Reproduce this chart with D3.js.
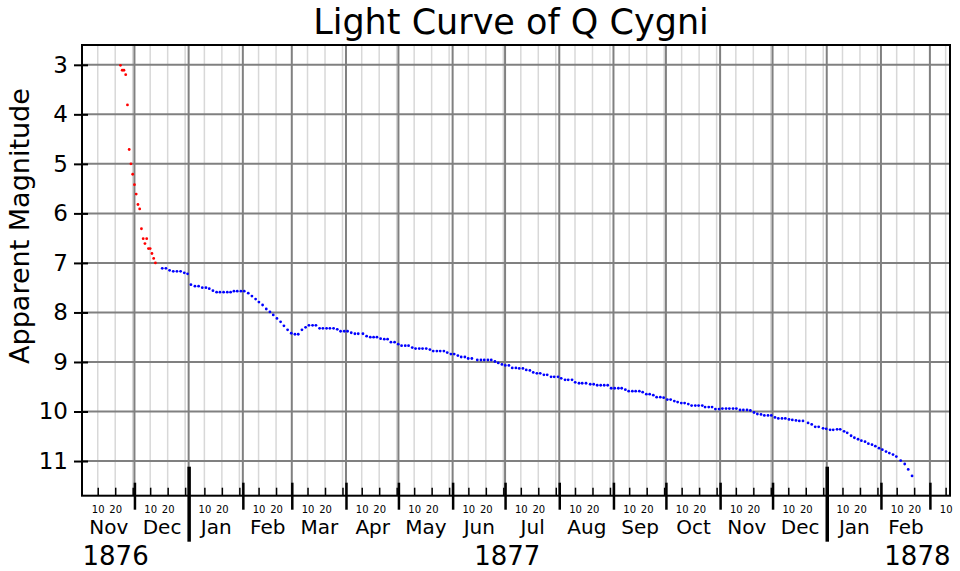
<!DOCTYPE html>
<html>
<head>
<meta charset="utf-8">
<script src="https://cdn.jsdelivr.net/npm/d3@7"></script>
<style>
body { margin: 0; background: #fff; }
svg { font-family: "DejaVu Sans", sans-serif; }
</style>
</head>
<body>
<div id="chart"></div>
<script>
// days counted from 1 Nov 1876
var redDay = [22, 23, 24, 25, 26, 27, 28, 29, 30, 31, 32, 33, 34, 35, 36, 37, 38, 39, 40, 41, 42];
var redMag = [3.01, 3.11, 3.11, 3.20, 3.81, 4.71, 5.00, 5.21, 5.42, 5.61, 5.82, 5.91, 6.31, 6.51, 6.61, 6.51, 6.71, 6.71, 6.81, 6.91, 7.00];

var blueDay = [
  45.9, 48.0, 50.1, 52.2, 54.3, 56.4, 58.5, 60.4, 62.3, 64.6, 66.7, 68.8, 70.9, 72.8, 74.9, 77.0, 78.9, 81.0, 83.1, 85.0, 86.9, 88.8, 90.9, 92.8,
  95.1, 97.2, 99.3, 101.2, 103.3, 105.4, 107.5, 109.4, 111.5, 113.6, 115.5, 117.6, 119.7, 121.8, 123.7, 125.8, 127.9, 129.8, 131.9, 133.8, 135.9, 137.8, 139.9, 141.8, 143.9, 146.0, 147.9, 150.0, 151.9, 154.0, 156.1, 158.0,
  160.7, 162.8, 164.9, 166.8, 168.7, 170.8, 172.9, 174.8, 176.7, 178.8, 180.9, 182.8, 184.9, 186.8, 188.9, 190.8, 192.9, 194.8, 196.9, 199.0, 200.9, 203.0, 204.9, 207.0, 208.9, 211.0, 212.9, 215.0, 216.9, 219.0, 220.9, 223.0,
  226.1, 228.2, 230.1, 232.2, 234.1, 236.2, 238.1, 240.2, 242.1, 244.2, 246.1, 248.2, 250.1, 252.2, 254.1, 256.2, 258.1, 260.2, 262.1, 264.2, 266.1, 268.3, 270.1, 272.3, 274.1, 276.3, 278.1, 280.3, 282.1, 284.3, 286.1, 288.3,
  290.7, 292.7, 294.7, 296.7, 298.7, 300.7, 302.7, 304.7, 306.8, 308.7, 310.8, 312.7, 314.8, 316.7, 318.8, 320.7, 322.8, 324.7, 326.8, 328.7, 330.8, 332.7, 334.8, 336.7, 338.8, 340.7, 342.8, 344.7, 346.8, 348.7, 350.8, 352.7, 354.8,
  356.4, 358.5, 360.4, 362.3, 364.4, 366.3, 368.4, 370.3, 372.4, 374.3, 376.4, 378.3, 380.4, 382.3, 384.4, 386.3, 388.4, 390.3, 392.4, 394.3, 396.4, 398.3, 400.4, 402.3, 404.4, 406.3, 408.4, 410.3, 412.4, 415.3, 417.4, 419.4, 421.4,
  423.9, 425.7, 427.9, 429.7, 431.9, 433.7, 435.9, 437.7, 439.9, 441.8, 443.9, 445.8, 447.9, 449.8, 451.9, 453.8, 455.9, 457.8, 459.9, 461.8, 463.9, 465.8, 468.3, 470.6, 472.6, 474.8
];
var blueMag = [
  7.11, 7.11, 7.15, 7.17, 7.17, 7.17, 7.20, 7.22, 7.44, 7.47, 7.47, 7.50, 7.50, 7.52, 7.56, 7.59, 7.59, 7.59, 7.59, 7.59, 7.57, 7.57, 7.57, 7.57,
  7.61, 7.67, 7.73, 7.79, 7.85, 7.93, 7.99, 8.05, 8.12, 8.19, 8.27, 8.35, 8.42, 8.44, 8.44, 8.35, 8.30, 8.26, 8.26, 8.26, 8.32, 8.32, 8.32, 8.32, 8.32, 8.34, 8.38, 8.38, 8.38, 8.41, 8.43, 8.43,
  8.43, 8.48, 8.50, 8.50, 8.50, 8.53, 8.54, 8.54, 8.60, 8.60, 8.64, 8.67, 8.67, 8.67, 8.71, 8.73, 8.73, 8.73, 8.73, 8.75, 8.78, 8.78, 8.78, 8.78, 8.81, 8.84, 8.84, 8.87, 8.90, 8.90, 8.93, 8.93,
  8.96, 8.96, 8.96, 8.96, 8.96, 8.99, 9.02, 9.05, 9.07, 9.07, 9.12, 9.12, 9.13, 9.13, 9.16, 9.17, 9.21, 9.23, 9.23, 9.26, 9.26, 9.30, 9.30, 9.30, 9.33, 9.36, 9.36, 9.36, 9.41, 9.43, 9.43, 9.43,
  9.45, 9.45, 9.47, 9.47, 9.47, 9.47, 9.53, 9.53, 9.53, 9.53, 9.56, 9.59, 9.59, 9.59, 9.59, 9.61, 9.65, 9.65, 9.67, 9.71, 9.71, 9.72, 9.76, 9.76, 9.79, 9.81, 9.83, 9.83, 9.85, 9.88, 9.88, 9.88, 9.88,
  9.91, 9.91, 9.91, 9.95, 9.95, 9.94, 9.94, 9.94, 9.94, 9.94, 9.97, 9.97, 9.97, 9.98, 10.02, 10.05, 10.06, 10.08, 10.08, 10.08, 10.12, 10.14, 10.14, 10.14, 10.16, 10.17, 10.18, 10.19, 10.19, 10.23, 10.26, 10.31, 10.31,
  10.34, 10.35, 10.37, 10.37, 10.36, 10.36, 10.40, 10.43, 10.49, 10.53, 10.56, 10.59, 10.61, 10.65, 10.67, 10.70, 10.74, 10.77, 10.81, 10.84, 10.87, 10.91, 10.99, 11.06, 11.17, 11.30
];

var magTicks = [3, 4, 5, 6, 7, 8, 9, 10, 11];
var dayTicks = [10, 20, 30];
var dayLabels = [10, 20];
var monthNames = ["Jan", "Feb", "Mar", "Apr", "May", "Jun", "Jul", "Aug", "Sep", "Oct", "Nov", "Dec"];
var yearLabels = ["1876", "1877", "1878"];

var origin = Date.UTC(1876, 10, 1);
function toDate(d) { return new Date(origin + d * 864e5); }

var width = 960, height = 571;
var margin = {top: 45, right: 10, bottom: 75.3, left: 82},
  w = width - margin.left - margin.right,
  h = height - margin.top - margin.bottom;

var start = new Date(origin), end = new Date(Date.UTC(1878, 2, 12, 12));

var svg = d3.select("#chart").append("svg")
  .attr("width", width)
  .attr("height", height);

svg.append("rect").attr("width", width).attr("height", height).attr("fill", "#fff");

var g = svg.append("g")
  .attr("transform", "translate(" + margin.left + "," + margin.top + ")");

var x = d3.scaleUtc().domain([start, end]).range([0, w]);
var y = d3.scaleLinear().domain([2.6, 11.7]).range([0, h]);

var minorDates = d3.utcDay.range(start, end).filter(function(d) { return dayTicks.indexOf(d.getUTCDate()) >= 0; });
var monthStarts = d3.utcMonth.range(start, end).filter(function(d) { return d > start; });
var yearStarts = monthStarts.filter(function(d) { return d.getUTCMonth() === 0; });
var plainMonths = monthStarts.filter(function(d) { return d.getUTCMonth() !== 0; });
var fullMonths = d3.utcMonth.range(start, end).filter(function(d) { return d3.utcMonth.offset(d, 1) <= end; });
var monthMids = fullMonths.map(function(d) { return new Date((+d + +d3.utcMonth.offset(d, 1)) / 2); });

// grid
g.append("g").selectAll("line").data(minorDates).enter().append("line")
  .attr("x1", x).attr("x2", x).attr("y1", 0).attr("y2", h)
  .attr("stroke", "#d8d8d8").attr("stroke-width", 1.5);
g.append("g").selectAll("line").data(monthStarts).enter().append("line")
  .attr("x1", x).attr("x2", x).attr("y1", 0).attr("y2", h)
  .attr("stroke", "#808080").attr("stroke-width", 2);
g.append("g").selectAll("line").data(magTicks).enter().append("line")
  .attr("x1", 0).attr("x2", w).attr("y1", y).attr("y2", y)
  .attr("stroke", "#808080").attr("stroke-width", 2);

// points
g.append("g").selectAll("circle").data(redDay).enter().append("circle")
  .attr("cx", function(d) { return x(toDate(d)); })
  .attr("cy", function(d, i) { return y(redMag[i]); })
  .attr("r", 1.4).attr("fill", "#ff0000");
g.append("g").selectAll("circle").data(blueDay).enter().append("circle")
  .attr("cx", function(d) { return x(toDate(d)); })
  .attr("cy", function(d, i) { return y(blueMag[i]); })
  .attr("r", 1.4).attr("fill", "#0000ff");

// frame
g.append("rect").attr("width", w).attr("height", h)
  .attr("fill", "none").attr("stroke", "#000").attr("stroke-width", 2);

// y axis
g.append("g")
  .call(d3.axisLeft(y).tickValues(magTicks).tickSize(8).tickPadding(6))
  .call(function(a) {
    a.select(".domain").remove();
    a.selectAll(".tick line").attr("x1", 6).attr("stroke-width", 2);
    a.selectAll(".tick text").attr("font-size", 23).attr("font-family", "DejaVu Sans").attr("x", -14);
  });

// x axis: day ticks
g.append("g").attr("transform", "translate(0," + h + ")")
  .call(d3.axisBottom(x).tickValues(minorDates).tickSize(0)
    .tickFormat(function(d) { return dayLabels.indexOf(d.getUTCDate()) >= 0 ? d.getUTCDate() : ""; }))
  .call(function(a) {
    a.select(".domain").remove();
    a.selectAll(".tick line").attr("y2", -8).attr("stroke-width", 1.5);
    a.selectAll(".tick text").attr("y", 17.5).attr("dy", 0).attr("font-size", 10).attr("font-family", "DejaVu Sans");
  });

// month ticks
g.append("g").attr("transform", "translate(0," + h + ")")
  .call(d3.axisBottom(x).tickValues(plainMonths).tickSize(14).tickFormat(""))
  .call(function(a) {
    a.select(".domain").remove();
    a.selectAll(".tick line").attr("y1", -13).attr("stroke-width", 2.5);
  });

// year ticks
g.append("g").attr("transform", "translate(0," + h + ")")
  .call(d3.axisBottom(x).tickValues(yearStarts).tickSize(46).tickFormat(""))
  .call(function(a) {
    a.select(".domain").remove();
    a.selectAll(".tick line").attr("y1", -29).attr("stroke-width", 3.5);
  });

// month names
g.append("g").attr("transform", "translate(0," + h + ")")
  .call(d3.axisBottom(x).tickValues(monthMids).tickSize(0)
    .tickFormat(function(d) { return monthNames[d.getUTCMonth()]; }))
  .call(function(a) {
    a.select(".domain").remove();
    a.selectAll(".tick line").remove();
    a.selectAll(".tick text").attr("y", 38.5).attr("dy", 0).attr("font-size", 20).attr("font-family", "DejaVu Sans");
  });

// years
var yearPos = [start, new Date(Date.UTC(1877, 6, 2)), end];
var anchors = ["start", "middle", "end"];
g.append("g").attr("transform", "translate(0," + h + ")")
  .call(d3.axisBottom(x).tickValues(yearPos).tickSize(0)
    .tickFormat(function(d, i) { return yearLabels[i]; }))
  .call(function(a) {
    a.select(".domain").remove();
    a.selectAll(".tick line").remove();
    a.selectAll(".tick text").attr("y", 69.5).attr("dy", 0).attr("font-size", 26).attr("font-family", "DejaVu Sans")
      .attr("text-anchor", function(d, i) { return anchors[i]; });
  });

// labels
svg.append("text")
  .attr("x", 511).attr("y", 34)
  .attr("text-anchor", "middle")
  .attr("font-size", 35)
  .text("Light Curve of Q Cygni");

svg.append("text")
  .attr("transform", "translate(29,226) rotate(-90)")
  .attr("text-anchor", "middle")
  .attr("font-size", 27)
  .text("Apparent Magnitude");
</script>
</body>
</html>
